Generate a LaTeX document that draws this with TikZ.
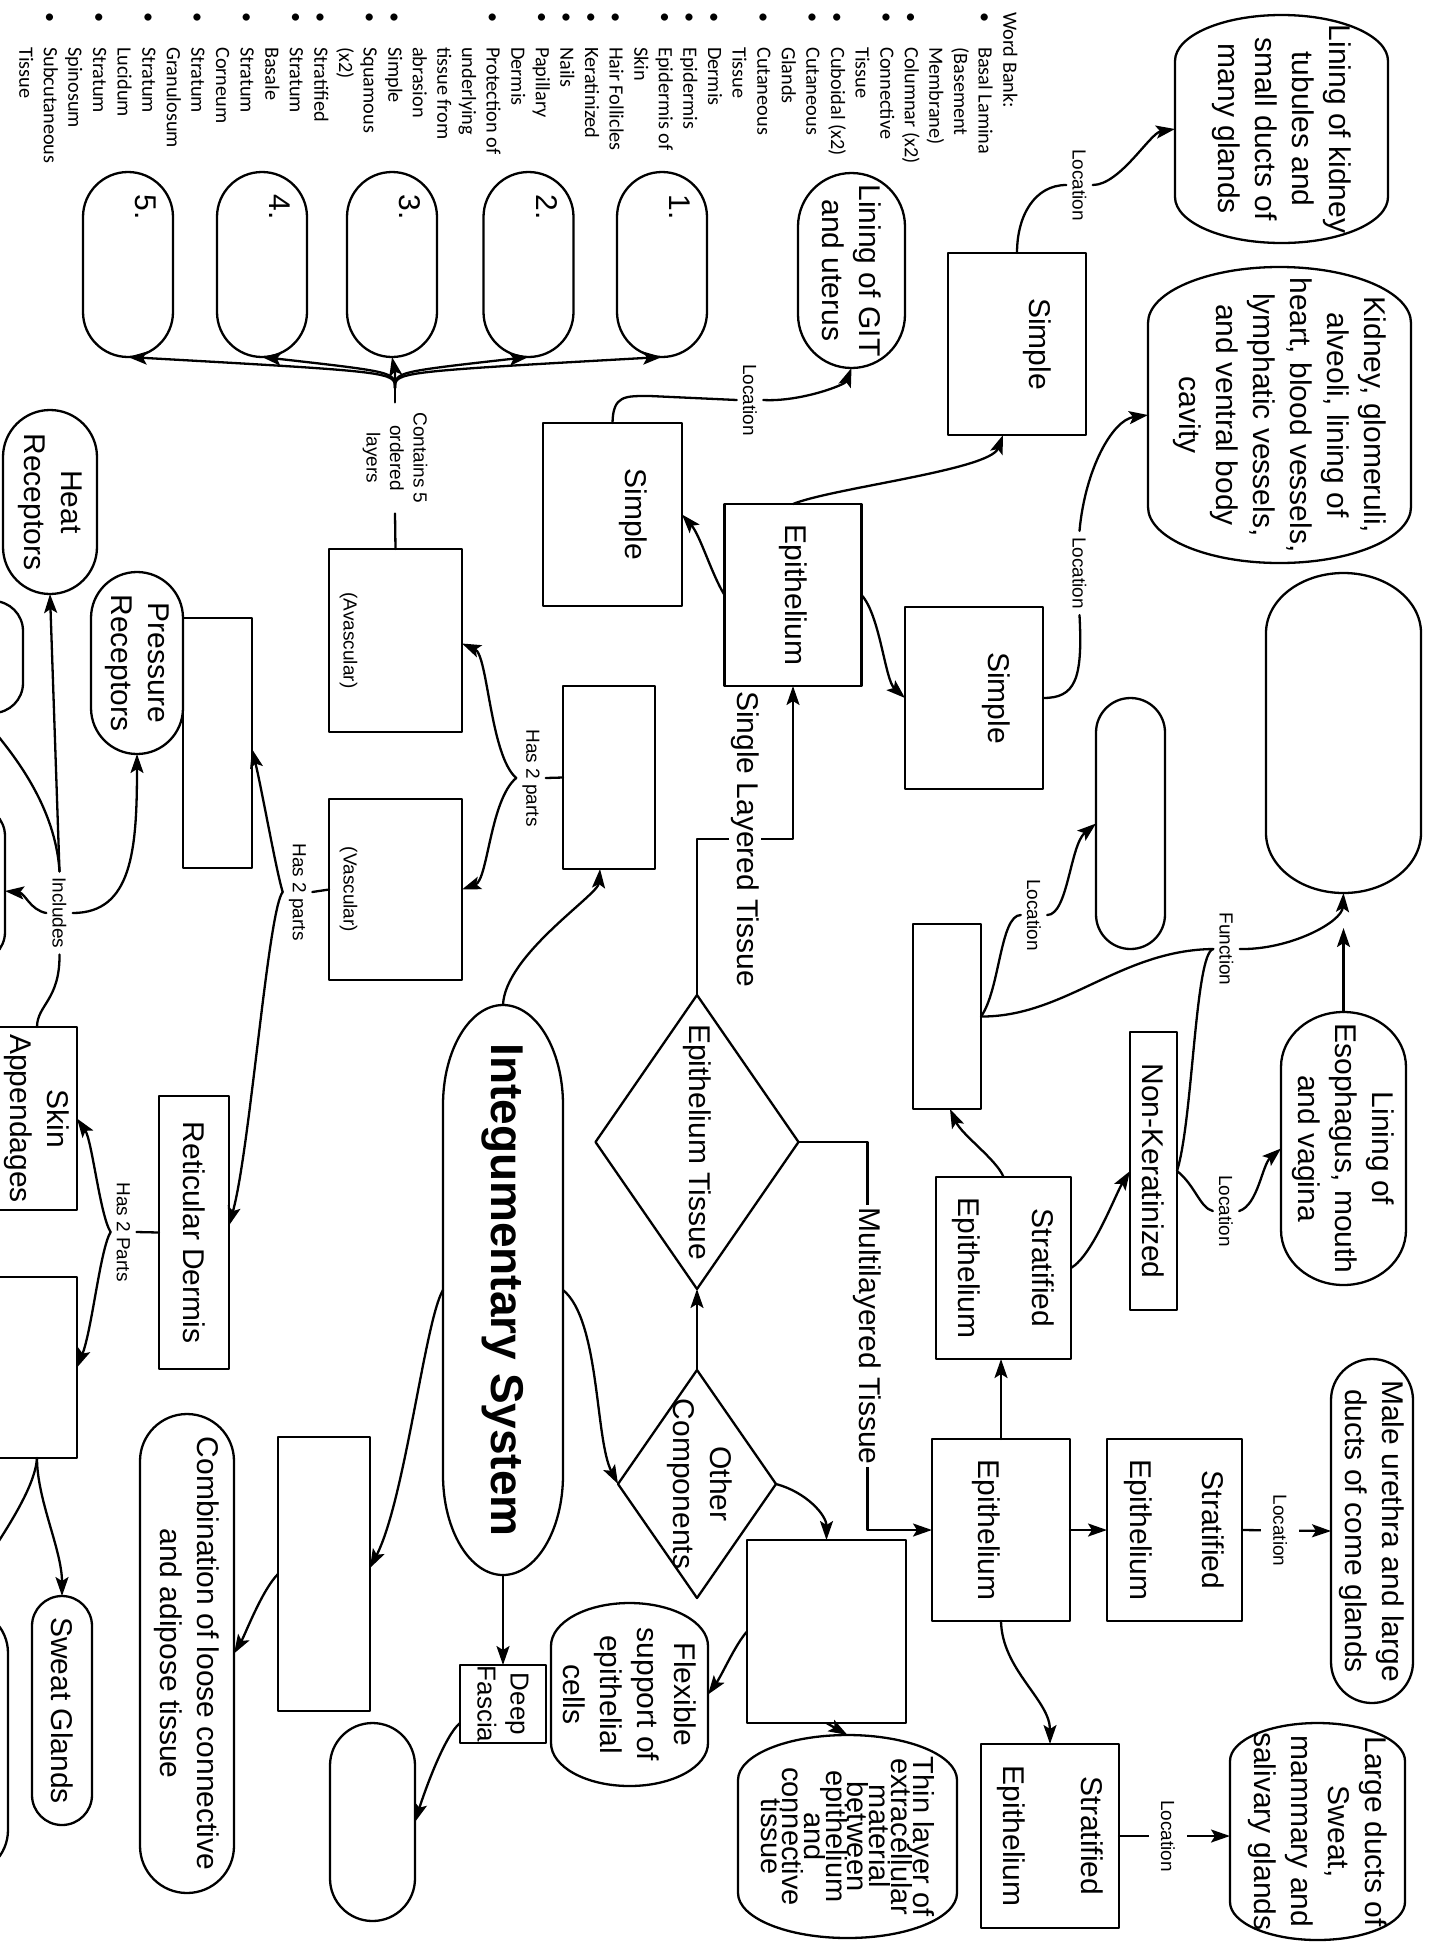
\documentclass[tikz,border=0pt]{standalone}
\usepackage{fontspec}
\setmainfont{Liberation Sans}
\newfontfamily\wbfont{Carlito}
\usetikzlibrary{shapes.misc,shapes.geometric,arrows.meta,calc}
\newcommand{\wbb}{\makebox[35pt][l]{•}}
\newcommand{\wbi}{\hspace*{35pt}}
\tikzset{
  ln/.style={line width=2.3pt, line cap=round, line join=round},
  arr/.style={ln, -{Stealth[length=19pt,width=13pt,inset=4pt]}},
  bx/.style={draw, ln, rectangle, inner sep=0pt, outer sep=0pt},
  rr/.style={draw, ln, rounded rectangle, rounded rectangle arc length=#1, inner sep=0pt, outer sep=0pt},
  cp/.style={rectangle, inner sep=0pt, outer sep=0pt},
  dm/.style={draw, ln, diamond, inner sep=0pt, outer sep=0pt},
  sz/.style 2 args={minimum width=#1pt, minimum height=#2pt},
  mfont/.style={font=\fontsize{30}{37}\selectfont},
  tx/.style={label={[mfont,align=center]center:{#1}}},
  lab/.style={font=\fontsize{19}{23.5}\selectfont, inner sep=6pt, align=center},
}
% capsule outline with elliptical ends: #1 node, #2 end depth, #3 half height
\newcommand{\capsule}[3]{%
  \draw[ln] ([xshift=-#2pt]#1.north east)
    arc[start angle=90, end angle=-90, x radius=#2pt, y radius=#3pt]
    -- ([xshift=#2pt]#1.south west)
    arc[start angle=270, end angle=90, x radius=#2pt, y radius=#3pt] -- cycle;}
\begin{document}
\begin{tikzpicture}[x=1pt,y=1pt]
\path[use as bounding box, fill=white] (0,-1944) rectangle (1438,0);
\begin{scope}[rotate=-90, transform shape]
% ---------- word bank ----------
\node[anchor=north west, inner sep=0pt, align=left, font=\wbfont\fontsize{20.3}{24.6}\selectfont] (wordbank) at (12,1020.7) {\strut Word Bank:\\
\wbb Basal Lamina\\ \wbi (Basement\\ \wbi Membrane)\\
\wbb Columnar (x2)\\ \wbb Connective\\ \wbi Tissue\\
\wbb Cuboidal (x2)\\ \wbb Cutaneous\\ \wbi Glands\\
\wbb Cutaneous\\ \wbi Tissue\\ \wbb Dermis\\ \wbb Epidermis\\
\wbb Epidermis of\\ \wbi Skin\\ \wbb Hair Follicles\\ \wbb Keratinized\\
\wbb Nails\\ \wbb Papillary\\ \wbi Dermis\\ \wbb Protection of\\
\wbi underlying\\ \wbi tissue from\\ \wbi abrasion\\ \wbb Simple\\
\wbb Squamous\\ \wbi (x2)\\ \wbb Stratified\\ \wbb Stratum\\ \wbi Basale\\
\wbb Stratum\\ \wbi Corneum\\ \wbb Stratum\\ \wbi Granulosum\\
\wbb Stratum\\ \wbi Lucidum\\ \wbb Stratum\\ \wbi Spinosum\\
\wbb Subcutaneous\\ \wbi Tissue};
% ---------- rounded shapes ----------
\node[cp, sz={228}{213}, tx={Lining of kidney\\tubules and\\small ducts of\\many glands}] (kid1) at (129,1281.5) {};
\capsule{kid1}{46}{106.5}
\node[cp, sz={296}{263}, tx={Kidney, glomeruli,\\alveoli, lining of\\heart, blood vessels,\\lymphatic vessels,\\and ventral body\\cavity}] (kid2) at (415,1279.5) {};
\capsule{kid2}{56}{131.5}
\node[cp, sz={320}{155}] (bigempty) at (733,1343.5) {};
\capsule{bigempty}{60}{77.5}
\node[rr=180, sz={251}{69}] (narrow) at (823.5,1130.5) {};
\node[cp, sz={273}{125}, tx={Lining of\\Esophagus, mouth\\and vagina}] (esoph) at (1148.5,1343.5) {};
\capsule{esoph}{55}{62.5}
\node[rr=180, sz={344}{82}, tx={Male urethra and large\\ducts of come glands}] (urethra) at (1531,1372) {};
\node[cp, sz={217}{175}, tx={Large ducts of\\Sweat,\\mammary and\\salivary glands}] (largeducts) at (1831.5,1317.5) {};
\capsule{largeducts}{38}{87.5}
\node[cp, sz={203}{219}, label={[align=center,font={\fontsize{29}{21.7}\selectfont\lineskiplimit=-100pt}]center:{Thin layer of\\extracellular\\material\\between\\epithelium\\and\\connective\\tissue}}] (thin) at (1836.5,847.5) {};
\capsule{thin}{45}{109.5}
\node[cp, sz={183}{157}, tx={Flexible\\support of\\epithelial\\cells}] (flex) at (1694.5,629.5) {};
\capsule{flex}{43}{78.5}
\node[rr=180, sz={195}{107}, tx={Lining of GIT\\and uterus}] (git) at (270.5,851.5) {};
\foreach \n/\b/\nm in {1/662/one, 2/528.5/two, 3/392/three, 4/262/four, 5/128/five}
  \node[rr=180, sz={185}{90}, label={[mfont,xshift=-57pt,yshift=18pt]center:\n.}] (\nm) at (264.5,\b) {};
\node[rr=180, sz={182}{92}, tx={Pressure\\Receptors}] (pressure) at (663,137) {};
\node[rr=180, sz={184}{94}, tx={Heat\\Receptors}] (heat) at (502,50) {};
\node[rr=180, sz={229}{60}, tx={Sweat Glands}] (sweat) at (1710.5,62) {};
\node[rr=180, sz={479}{94}, tx={Combination of loose connective\\and adipose tissue}] (comb) at (1653.5,187) {};
\node[rr=180, sz={198}{85}] (emptyb) at (1822,372.5) {};
\node[bx, rounded corners=30pt, sz={112}{123}] (Q) at (657,-38.5) {};
\node[bx, rounded corners=30pt, sz={156}{105}] (R) at (884,-47.5) {};
\node[bx, rounded corners=45pt, sz={267}{108}] (LC) at (1741.5,-46) {};
% ---------- boxes ----------
\node[bx, sz={182}{138}, label={[mfont,yshift=20pt]center:Simple}] (simpleA) at (344,1017) {};
\node[bx, sz={183}{139}, label={[mfont,yshift=21pt]center:Simple}] (simpleB) at (514.5,612.5) {};
\node[bx, sz={182}{137}, tx={Epithelium}] (epi1) at (595,793) {};
\node[bx, sz={182}{138}, label={[mfont,yshift=22pt]center:Simple}] (simpleC) at (698,974) {};
\node[bx, sz={183}{92}] (blankE) at (777.5,609) {};
\node[bx, sz={183}{133}, label={[lab,yshift=-47pt]center:{(Avascular)}}] (avasc) at (640.5,395.5) {};
\node[bx, sz={181}{133}, label={[lab,yshift=-47pt]center:{(Vascular)}}] (vasc) at (889.5,395.5) {};
\node[bx, sz={250}{69}] (boxP) at (743,217.5) {};
\node[bx, sz={273}{70}, tx={Reticular Dermis}] (reticular) at (1232.5,194) {};
\node[bx, sz={183}{80}, tx={Skin\\Appendages}] (skinapp) at (1118.5,37) {};
\node[bx, sz={181}{80}] (boxS) at (1367.5,37) {};
\node[bx, sz={274}{92}] (boxT) at (1574,324) {};
\node[bx, sz={78}{86}, label={[align=center,font=\fontsize{26}{33}\selectfont]center:{Deep\\Fascia}}] (deep) at (1704,503) {};
\node[bx, sz={278}{47}, tx={Non-Keratinized}] (nonker) at (1171,1153.5) {};
\node[bx, sz={185}{68}] (blankF) at (1016.5,947) {};
\node[bx, sz={182}{135}, tx={Stratified\\[37pt]Epithelium}] (strat1) at (1268,1003.5) {};
\node[bx, sz={182}{138}, label={[mfont,yshift=-15pt]center:Epithelium}] (epi2) at (1530,1001) {};
\node[bx, sz={182}{135}, tx={Stratified\\[35pt]Epithelium}] (strat2) at (1530,1174.5) {};
\node[bx, sz={184}{138}, tx={Stratified\\[41pt]Epithelium}] (strat3) at (1836,1050) {};
\node[bx, sz={183}{159}] (bm) at (1631.5,826.5) {};
% ---------- diamonds and main ----------
\node[dm, sz={294}{203}, label={[mfont]center:Epithelium Tissue}] (epitissue) at (1142,697) {};
\node[dm, sz={228}{158}, label={[mfont,align=center,yshift=3pt]center:{Other\\Components}}] (othercomp) at (1484,697) {};
\node[inner sep=0pt, outer sep=0pt, sz={570}{120}, font=\fontsize{46}{55}\selectfont\bfseries] (ism) at (1290,503) {Integumentary System};
\capsule{ism}{100}{60}
% ---------- small labels ----------
\node[lab] (L1) at (185,1079.5) {Location};
\node[lab] (L2) at (573,1079.5) {Location};
\node[lab] (L3) at (400,750) {Location};
\node[lab] (L4) at (915,1034) {Location};
\node[lab] (L5) at (1211,1226) {Location};
\node[lab] (Fn) at (949,1226.5) {Function};
\node[lab] (H2A) at (778,531) {Has 2 parts};
\node[lab] (H2B) at (892,297.5) {Has 2 parts};
\node[lab] (H2C) at (1232,123.5) {Has 2 Parts};
\node[lab] (Inc) at (913,59.5) {Includes};
\node[lab, inner sep=10pt] (C5) at (458,395) {Contains 5\\ordered\\layers};
\coordinate (br) at (388,395);
\coordinate (esotip) at (928,1343.5);
% ---------- connectors ----------
\draw[arr] (epi1.west) .. controls (488,832) and (470,990) .. ([yshift=-14pt]simpleA.east);
\draw[arr] (epi1.south) .. controls (575,712) and (535,700) .. (simpleB.north);
\draw[arr] (epi1.north) .. controls (615,880) and (680,885) .. (simpleC.south);
\draw[arr] (epitissue.west) -- ++(-156,0) -- node[mfont,fill=white,inner sep=2pt]{Single Layered Tissue} ++(0,96) -- (epi1.east);
\draw[arr] (epitissue.north) -- ++(0,69) -- node[mfont,fill=white,inner sep=2pt]{Multilayered Tissue} ++(388,0) -- (epi2.south);
\draw[arr] (othercomp.west) -- (epitissue.east);
\draw[arr] (ism.north) .. controls (1320,600) and (1440,595) .. (othercomp.south);
\draw[arr] (ism.west) .. controls (955,505) and (895,598) .. ([yshift=-9pt]blankE.east);
\draw[arr] (ism.east) -- (deep.west);
\draw[arr] (ism.south) .. controls (1320,425) and (1500,405) .. ([xshift=-6pt]boxT.north);
\draw[arr] (boxT.south) .. controls (1590,262) and (1635,245) .. (comb.north);
\draw[arr] ([xshift=19pt]deep.south) .. controls (1735,445) and (1790,425) .. (emptyb.north);
\draw[arr] (othercomp.north) .. controls (1492,806) and (1515,826.5) .. (bm.west);
\draw[arr] (bm.south) .. controls (1645,735) and (1675,722) .. (flex.north);
\draw[arr] (bm.east) -- (thin.west);
\draw[arr] (strat3.north) -- node[lab,fill=white,inner sep=12pt,pos=0.44]{Location} (strat3.north |- largeducts.south);
\draw[arr] (epi2.east) .. controls (1670,1002) and (1700,1050) .. (strat3.west);
\draw[arr] (epi2.north) -- (strat2.south);
\draw[arr] (strat2.north) -- node[lab,fill=white,inner sep=12pt,pos=0.43]{Location} (urethra.south);
\draw[arr] (epi2.west) -- (epi2.west -| strat1.east);
\draw[arr] (strat1.north) .. controls (1255,1093) and (1195,1115) .. (nonker.south);
\draw[arr] (strat1.west) .. controls (1160,997) and (1135,962) .. ([yshift=3pt]blankF.east);
\draw[ln] (blankF.north) .. controls (990,1000) and (915,1000) .. (L4.south);
\draw[arr] (L4.north) .. controls (915,1068) and (845,1070) .. (narrow.south);
\draw[ln] (blankF.north) .. controls (1017,1065) and (950,1120) .. (Fn.south);
\draw[ln] (nonker.north) .. controls (1120,1193) and (952,1195) .. (Fn.south);
\draw[arr] (Fn.north) .. controls (950,1290) and (922,1342) .. (bigempty.east);
\draw[arr] (esoph.west) -- (esotip);
\draw[ln] (nonker.north) .. controls (1185,1195) and (1208,1200) .. (L5.south);
\draw[arr] (L5.north) .. controls (1205,1258) and (1165,1262) .. (esoph.south);
\draw[ln] (simpleC.north) .. controls (698,1075) and (680,1083) .. (L2.east);
\draw[arr] (L2.west) .. controls (470,1085) and (420,1112) .. (kid2.south);
\draw[ln] (simpleA.west) .. controls (215,1017) and (185,1035) .. (L1.south);
\draw[arr] (L1.north) .. controls (185,1120) and (133,1150) .. (kid1.south);
\draw[ln] (simpleB.west) .. controls (395,613) and (396,625) .. (396,650) -- (L3.south);
\draw[arr] (L3.north) .. controls (402,800) and (385,845) .. (git.east);
\draw[ln] (avasc.west) -- (C5.east);
\draw[ln] (C5.west) -- (br);
\foreach \nm in {one,two,three,four,five}
  \draw[arr] (br) .. controls (372,395) .. (\nm.east);
\draw[ln] (blankE.south) -- (H2A.north);
\draw[arr] (H2A.south) .. controls (755,490) and (655,488) .. ([xshift=3pt]avasc.north);
\draw[arr] (H2A.south) .. controls (800,490) and (880,488) .. (vasc.north);
\draw[ln] (vasc.south) -- (H2B.north);
\draw[arr] (H2B.south) .. controls (870,276) and (790,262) .. ([xshift=6pt]boxP.north);
\draw[arr] (H2B.south) .. controls (910,268) and (1150,250) .. ([xshift=-7pt]reticular.north);
\draw[ln] (reticular.south) -- (H2C.north);
\draw[arr] (H2C.south) .. controls (1215,100) and (1140,92) .. (skinapp.north);
\draw[arr] (H2C.south) .. controls (1250,100) and (1330,92) .. (boxS.north);
\draw[ln] (skinapp.west) .. controls (1005,37) and (1000,60) .. (Inc.east);
\draw[arr] (Inc.west) -- (heat.east);
\draw[arr] (Inc.west) .. controls (800,55) and (745,5) .. ([yshift=18pt]Q.east);
\draw[arr] (Inc.north) .. controls (913,132) and (850,137) .. (pressure.east);
\draw[arr] (Inc.south) .. controls (910,30) and (893,25) .. ([xshift=7pt]R.north);
\draw[arr] (boxS.east) .. controls (1500,37) and (1550,62) .. (sweat.west);
\draw[arr] (boxS.east) .. controls (1490,35) and (1540,0) .. (LC.west);
\end{scope}
\end{tikzpicture}
\end{document}
